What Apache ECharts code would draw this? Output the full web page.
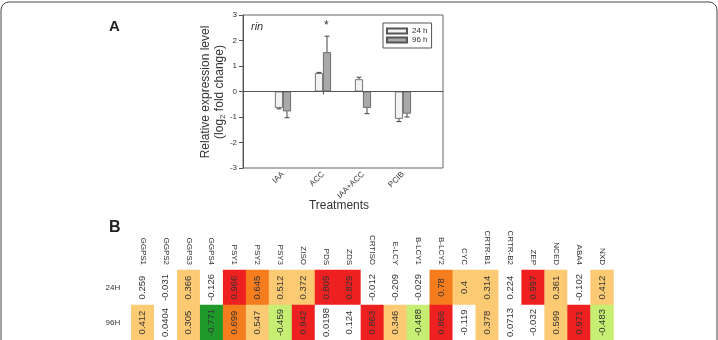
<!DOCTYPE html>
<html>
<head>
<meta charset="utf-8">
<script src="https://cdn.jsdelivr.net/npm/echarts@6/dist/echarts.min.js"></script>
<style>
  html, body { margin: 0; padding: 0; background: #fff; }
  #main { width: 718px; height: 340px; }
</style>
</head>
<body>
<div id="main"></div>
<script>
// panel A - rin, relative expression (log2 fold change)
var treatments = ['IAA', 'ACC', 'IAA+ACC', 'PCIB']
var h24 = [-0.64, 0.72, 0.48, -1.07]
var h24Err = [0.04, 0.03, 0.08, 0.11]
var h96 = [-0.78, 1.54, -0.64, -0.87]
var h96Err = [0.25, 0.63, 0.23, 0.13]
var yTicks = [-3, -2, -1, 0, 1, 2, 3]

// panel B - heatmap
var genes = ['GGPS1', 'GGPS2', 'GGPS3', 'GGPS4', 'PSY1', 'PSY2', 'PSY3', 'ZISO', 'PDS', 'ZDS', 'CRTISO',
  'E-LCY', 'B-LCY1', 'B-LCY2', 'CYC', 'CRTR-B1', 'CRTR-B2', 'ZEP', 'NCED', 'ABA4', 'NXD']
var rows = ['24H', '96H']
var row24 = [0.259, -0.031, 0.366, -0.126, 0.966, 0.645, 0.512, 0.372, 0.809, 0.829, -0.012,
  -0.209, -0.029, 0.78, 0.4, 0.314, 0.224, 0.997, 0.361, -0.102, 0.412]
var row96 = [0.412, 0.0404, 0.305, -0.771, 0.699, 0.547, -0.459, 0.942, 0.0198, 0.124, 0.863,
  0.346, -0.488, 0.866, -0.119, 0.378, 0.0713, -0.032, 0.599, 0.971, -0.483]

var font = 'Liberation Sans, Arial, sans-serif'

// pad categories so groups sit on ticks 1..4 of a 0..5 axis
var cats = [''].concat(treatments, [''])
function pad(arr) { return [null].concat(arr, [null]) }

var errData = []
treatments.forEach(function (t, i) {
  errData.push([i + 1, h24[i], h24Err[i], -4])
  errData.push([i + 1, h96[i], h96Err[i], 4])
})

var heat = []
genes.forEach(function (g, i) {
  heat.push([i, 0, row24[i]])
  heat.push([i, 1, row96[i]])
})

var chart = echarts.init(document.getElementById('main'))

var option = {
  animation: false,
  textStyle: { fontFamily: font },
  grid: [
    { left: 243, top: 15, width: 200, height: 153, show: true, borderColor: '#666', borderWidth: 1 },
    { left: 131.3, top: 270, width: 482.2, height: 70 }
  ],
  legend: {
    data: ['24 h', '96 h'],
    orient: 'vertical',
    left: 383, top: 23,
    icon: 'rect',
    itemWidth: 20, itemHeight: 5, itemGap: 1,
    padding: [4, 4, 4, 3],
    borderColor: '#555', borderWidth: 1,
    selectedMode: false,
    textStyle: { fontSize: 8, color: '#333' }
  },
  xAxis: [
    {
      gridIndex: 0, type: 'category', data: cats, boundaryGap: false,
      axisLine: { lineStyle: { color: '#555' } },
      axisTick: { length: 3, lineStyle: { color: '#555' }, interval: function (i, v) { return v !== '' } },
      axisLabel: { rotate: 45, fontSize: 8, color: '#333', margin: 5, interval: 0 },
      splitLine: { show: false }
    },
    {
      gridIndex: 1, type: 'category', data: genes, position: 'top',
      axisLine: { show: false }, axisTick: { show: false },
      axisLabel: { rotate: 90, fontSize: 8, color: '#333', margin: 5, interval: 0 }
    }
  ],
  yAxis: [
    {
      gridIndex: 0, type: 'value', min: yTicks[0], max: yTicks[yTicks.length - 1], interval: 1,
      axisLine: { show: true, lineStyle: { color: '#555' } },
      axisTick: { show: true, length: 4, lineStyle: { color: '#555' } },
      axisLabel: { fontSize: 8, color: '#333', margin: 6 },
      splitLine: { show: false }
    },
    {
      gridIndex: 1, type: 'category', data: rows, inverse: true,
      axisLine: { show: false }, axisTick: { show: false },
      axisLabel: { fontSize: 8, color: '#333', margin: 11 }
    }
  ],
  visualMap: {
    show: false, type: 'piecewise', seriesIndex: 3, dimension: 2,
    pieces: [
      { lt: -0.6, color: '#1f9a2a' },
      { gte: -0.6, lt: -0.3, color: '#c6ee72' },
      { gte: -0.3, lt: 0.3, color: '#ffffff' },
      { gte: 0.3, lt: 0.6, color: '#fdca74' },
      { gte: 0.6, lt: 0.8, color: '#f67d1e' },
      { gte: 0.8, color: '#ef2020' }
    ]
  },
  series: [
    {
      name: '24 h', type: 'bar', xAxisIndex: 0, yAxisIndex: 0,
      data: pad(h24), barWidth: 8, barGap: '0%',
      itemStyle: { color: '#f2f2f2', borderColor: '#555', borderWidth: 0.8 },
      markLine: {
        silent: true, symbol: ['none', 'none'], label: { show: false },
        lineStyle: { color: '#555', type: 'solid', width: 1 },
        data: [{ yAxis: 0 }]
      }
    },
    {
      name: '96 h', type: 'bar', xAxisIndex: 0, yAxisIndex: 0,
      data: pad(h96), barWidth: 8, barGap: '0%',
      itemStyle: { color: '#a9a9a9', borderColor: '#555', borderWidth: 0.8 }
    },
    {
      type: 'custom', xAxisIndex: 0, yAxisIndex: 0, silent: true,
      data: errData,
      renderItem: function (params, api) {
        var v = api.value(1), e = api.value(2), off = api.value(3)
        var s = v >= 0 ? 1 : -1
        var a = api.coord([api.value(0), v])
        var b = api.coord([api.value(0), v + s * e])
        var x = a[0] + off
        var st = { stroke: '#444', lineWidth: 1 }
        return {
          type: 'group',
          children: [
            { type: 'line', shape: { x1: x, y1: a[1], x2: x, y2: b[1] }, style: st },
            { type: 'line', shape: { x1: x - 2.5, y1: b[1], x2: x + 2.5, y2: b[1] }, style: st }
          ]
        }
      }
    },
    {
      type: 'heatmap', xAxisIndex: 1, yAxisIndex: 1, data: heat,
      itemStyle: { borderWidth: 0 },
      label: {
        show: true, rotate: 90, fontSize: 9.5, color: '#333',
        formatter: function (p) { return String(p.value[2]) }
      },
      emphasis: { disabled: true }
    }
  ],
  graphic: [
    { type: 'rect', shape: { x: 1, y: 2, width: 716, height: 400, r: 8 }, style: { fill: 'none', stroke: '#444', lineWidth: 1 }, silent: true },
    { type: 'text', left: 109, top: 19, style: { text: 'A', font: 'bold 15px ' + font, fill: '#222' } },
    { type: 'text', left: 109, top: 220, style: { text: 'B', font: 'bold 16px ' + font, fill: '#222' } },
    { type: 'text', left: 251, top: 21, style: { text: 'rin', font: 'italic 11px ' + font, fill: '#333' } },
    { type: 'text', left: 324, top: 20, style: { text: '*', font: '12px ' + font, fill: '#333' } },
    { type: 'text', x: 339, y: 206, style: { text: 'Treatments', font: '12px ' + font, fill: '#333', align: 'center', verticalAlign: 'middle' } },
    {
      type: 'text', x: 212.5, y: 92, rotation: Math.PI / 2,
      style: {
        text: '{a|Relative expression level}\n{a|(log}{s|2}{a| fold change)}',
        align: 'center', verticalAlign: 'middle', fill: '#333',
        rich: {
          a: { fontSize: 12, fontFamily: font, lineHeight: 14, fill: '#333' },
          s: { fontSize: 8, fontFamily: font, lineHeight: 14, fill: '#333', padding: [6, 0, 0, 0] }
        }
      }
    }
  ]
}

chart.setOption(option)
</script>
</body>
</html>
